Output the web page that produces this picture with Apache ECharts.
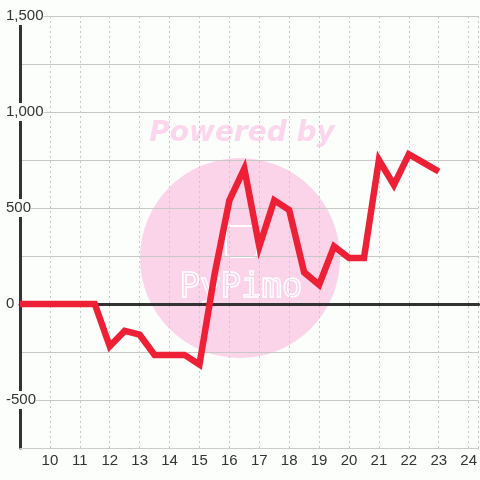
<!DOCTYPE html>
<html>
<head>
<meta charset="utf-8">
<script src="https://cdn.jsdelivr.net/npm/echarts@6/dist/echarts.min.js"></script>
<style>html,body{margin:0;padding:0;background:#fcfefc;}#c{width:480px;height:480px;}</style>
</head>
<body>
<div id="c"></div>
<script>
const hours = [9,9.5,10,10.5,11,11.5,12,12.5,13,13.5,14,14.5,15,15.5,16,16.5,17,17.5,18,18.5,19,19.5,20,20.5,21,21.5,22,22.5,23];
const values = [0,0,0,0,0,0,-220,-140,-160,-265,-265,-265,-315,150,540,705,300,540,490,165,100,300,240,240,750,620,780,735,690];
const xTicks = [10,11,12,13,14,15,16,17,18,19,20,21,22,23,24];
const yTicks = [-500,0,500,1000,1500];

const chart = echarts.init(document.getElementById('c'), null, {renderer:'canvas'});
chart.setOption({
  backgroundColor: '#fcfefc',
  animation: false,
  grid: {left: 20, right: 0, top: 16, bottom: 32, containLabel: false},
  graphic: [
    {type:'circle', z:-10, shape:{cx:240, cy:258, r:100}, style:{fill:'#fbd4ea'}},
    {type:'text', z:-10, x:242, y:134, style:{text:'Powered by', fill:'#fcd6ec', font:'italic bold 28px "DejaVu Sans", sans-serif', align:'center', verticalAlign:'middle'}},
    {type:'rect', z:-9, shape:{x:226, y:226, width:31, height:31, r:4}, style:{fill:'none', stroke:'#ffffff', lineWidth:2}},
    {type:'text', z:-9, x:241, y:288, style:{text:'PyPimo', fill:'none', stroke:'#ffffff', lineWidth:1.5, font:'34px "DejaVu Sans Mono", monospace', align:'center', verticalAlign:'middle'}}
  ],
  xAxis: [
    {
      type:'value', min:9, max:24.333, interval:1, position:'bottom',
      axisLine:{onZero:false, lineStyle:{color:'#cccccc', width:1}},
      axisTick:{show:false},
      axisLabel:{color:'#333', fontSize:15, margin:5, fontFamily:'"Liberation Sans", Arial, sans-serif', showMaxLabel:false,
        formatter: v => xTicks.indexOf(v) >= 0 ? String(v) : ''},
      splitLine:{show:true, lineStyle:{color:'#c8c8c8', type:[2,3], width:1}}
    },
    {
      type:'value', min:9, max:24.333, interval:1, position:'bottom',
      axisLine:{onZero:true, lineStyle:{color:'#333333', width:3}},
      axisTick:{show:false}, axisLabel:{show:false}, splitLine:{show:false}
    }
  ],
  yAxis: {
    type:'value', min:-750, max:1500, interval:250,
    axisLine:{show:true, lineStyle:{color:'#333333', width:3}},
    axisTick:{show:false},
    axisLabel:{color:'#333', fontSize:15, margin:14, align:'left', fontFamily:'"Liberation Sans", Arial, sans-serif',
      backgroundColor:'#fcfefc', lineHeight:18,
      formatter: v => yTicks.indexOf(v) >= 0 ? v.toLocaleString('en-US') : ''},
    splitLine:{show:true, lineStyle:{color:'#c8c8c8', width:1}}
  },
  series: [{
    type:'line', xAxisIndex:0,
    data: hours.map((h,i) => [h, values[i]]),
    showSymbol:false, symbol:'none',
    lineStyle:{color:'#ee2036', width:6.5, join:'miter'},
    z: 5
  }]
});
</script>
</body>
</html>
